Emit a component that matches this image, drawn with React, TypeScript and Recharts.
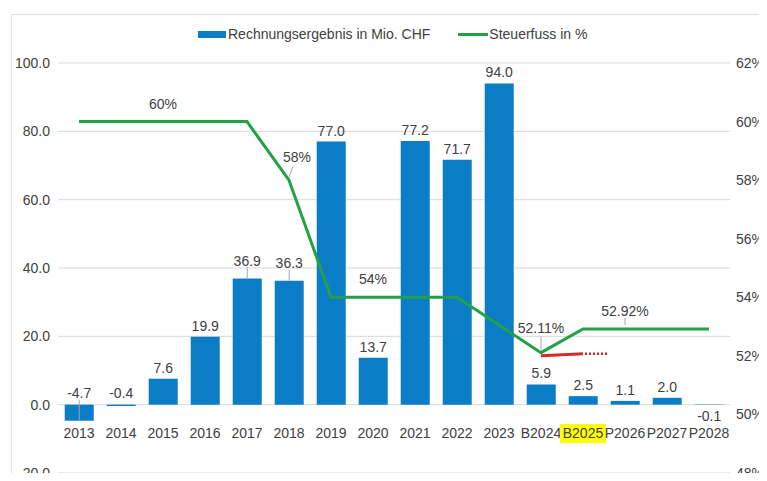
import { ComposedChart, Bar, Line, XAxis, YAxis, CartesianGrid, LabelList } from 'recharts';

const years = ['2013', '2014', '2015', '2016', '2017', '2018', '2019', '2020', '2021', '2022', '2023', 'B2024', 'B2025', 'P2026', 'P2027', 'P2028'];
const result = [-4.7, -0.4, 7.6, 19.9, 36.9, 36.3, 77.0, 13.7, 77.2, 71.7, 94.0, 5.9, 2.5, 1.1, 2.0, -0.1];
const taxRate = [60, 60, 60, 60, 60, 58, 54, 54, 54, 54, 53.05, 52.11, 52.92, 52.92, 52.92, 52.92];
const redMarker = [null, null, null, null, null, null, null, null, null, null, null, 52.0, 52.07, null, null, null];
const leftTicks = [-20, 0, 20, 40, 60, 80, 100];
const rightTicks = [48, 50, 52, 54, 56, 58, 60, 62];
const rateLabelYears = ['2015', '2018', '2020', 'B2024', 'P2026'];
// bar labels that Excel shows pulled away with a leader line
const raisedBarLabels = ['2017', '2018'];

const data = years.map((year, i) => ({
    year,
    result: result[i],
    rate: taxRate[i],
    marker: redMarker[i]
}));

const BLUE = '#0B7CC6';
const GREEN = '#22A147';
const RED = '#D42A2A';
const TEXT = '#404040';
const LEADER = '#A6A6A6';
const FONT = '"Liberation Sans", Arial, sans-serif';

const formatRate = (v: number) => (Number.isInteger(v) ? `${v}%` : `${v.toFixed(2)}%`);

const XTick = (props: any) => {
    const { x, y, payload } = props;
    return (
        <g>
            {payload.value === 'B2025' && <rect x={x - 23} y={y - 49} width={46} height={19} fill="#FFFF00" />}
            <text x={x} y={y - 35} textAnchor="middle" fontSize={14} fill={TEXT} fontFamily={FONT}>
                {payload.value}
            </text>
        </g>
    );
};

const BarValueLabel = (props: any) => {
    const { x, y, width, height, value, index } = props;
    const top = Math.min(y, y + height);
    const bottom = Math.max(y, y + height);
    const cx = x + width / 2;
    const year = years[index];
    let cy: number;
    let leader: [number, number] | null = null;
    if (value >= 0) {
        if (raisedBarLabels.includes(year)) {
            cy = top - 18;
            leader = [cy + 7, top];
        } else cy = top - 11;
    } else if (year === 'P2028') cy = bottom + 11;
    else {
        cy = top - 12;
        if (bottom - top > 6) leader = [cy + 7, bottom];
    }
    return (
        <g>
            {leader && <line x1={cx} y1={leader[0]} x2={cx} y2={leader[1]} stroke={LEADER} strokeWidth={1} />}
            <text x={cx} y={cy} dy="0.355em" textAnchor="middle" fontSize={14} fill={TEXT} fontFamily={FONT}>
                {value.toFixed(1)}
            </text>
        </g>
    );
};

const RateLabel = (props: any) => {
    const { x, y, value, index } = props;
    if (!rateLabelYears.includes(years[index])) return null;
    const year = years[index];
    const dx = year === '2018' ? 8 : 0;
    const up = year === '2018' ? 23 : year === 'B2024' ? 25 : 18;
    return (
        <g>
            {(year === '2018' || year === 'B2024') && (
                <line x1={x + (year === '2018' ? 4 : 0)} y1={y - up + 9} x2={x} y2={y - 3} stroke={LEADER} strokeWidth={1} />
            )}
            {year === 'P2026' && <line x1={x} y1={y - 11} x2={x} y2={y - 4} stroke={LEADER} strokeWidth={1} />}
            <text x={x + dx} y={y - up} dy="0.355em" textAnchor="middle" fontSize={14} fill={TEXT} fontFamily={FONT}>
                {formatRate(value)}
            </text>
        </g>
    );
};

const MarkerDot = (props: any) => {
    const { cx, cy, index } = props;
    if (years[index] !== 'B2025' || cx == null) return <g key={`m${index}`} />;
    return <line key={`m${index}`} x1={cx + 2} y1={cy} x2={cx + 24} y2={cy} stroke={RED} strokeWidth={2.5} strokeDasharray="2 2" />;
};

export default function App() {
    return (
        <div style={{ margin: -8, position: 'relative', width: 767, height: 481, overflow: 'hidden', background: '#fff', fontFamily: FONT }}>
            <div style={{ position: 'absolute', left: 11, top: 14, width: 800, height: 500, border: '1px solid #E0E0E0' }} />
            <div style={{ position: 'absolute', left: 198, top: 26, display: 'flex', alignItems: 'center', fontSize: 14, color: TEXT, whiteSpace: 'nowrap' }}>
                <span style={{ display: 'inline-block', width: 28, height: 7, background: BLUE, marginRight: 2 }} />
                <span>Rechnungsergebnis in Mio. CHF</span>
                <span style={{ display: 'inline-block', width: 30, height: 3, background: GREEN, marginLeft: 28, marginRight: 1 }} />
                <span>Steuerfuss in %</span>
            </div>
            <div style={{ position: 'absolute', left: 0, top: 0 }}>
                <ComposedChart width={767} height={481} data={data} margin={{ top: 63, right: 0, bottom: 0, left: 0 }} barCategoryGap="16%">
                    <CartesianGrid yAxisId="left" vertical={false} stroke="#D9D9D9" />
                    <XAxis dataKey="year" height={8} axisLine={false} tickLine={false} tickSize={0} tickMargin={0} interval={0} tick={<XTick />} />
                    <YAxis
                        yAxisId="left"
                        width={58}
                        domain={[-20, 100]}
                        ticks={leftTicks}
                        axisLine={false}
                        tickLine={false}
                        tickFormatter={(v: number) => v.toFixed(1)}
                        tick={{ fontSize: 14, fill: TEXT, fontFamily: FONT }}
                    />
                    <YAxis
                        yAxisId="right"
                        orientation="right"
                        width={37}
                        domain={[48, 62]}
                        ticks={rightTicks}
                        axisLine={false}
                        tickLine={false}
                        tickMargin={0}
                        tickFormatter={(v: number) => `${v}%`}
                        tick={{ fontSize: 14, fill: TEXT, fontFamily: FONT }}
                    />
                    <Bar yAxisId="left" dataKey="result" fill={BLUE} isAnimationActive={false}>
                        <LabelList dataKey="result" content={<BarValueLabel />} />
                    </Bar>
                    <Line yAxisId="right" dataKey="rate" stroke={GREEN} strokeWidth={3} dot={false} isAnimationActive={false} type="linear">
                        <LabelList dataKey="rate" content={<RateLabel />} />
                    </Line>
                    <Line
                        yAxisId="right"
                        dataKey="marker"
                        stroke={RED}
                        strokeWidth={3}
                        dot={(p: any) => <MarkerDot {...p} />}
                        activeDot={false}
                        isAnimationActive={false}
                        type="linear"
                    />
                </ComposedChart>
            </div>
        </div>
    );
}
